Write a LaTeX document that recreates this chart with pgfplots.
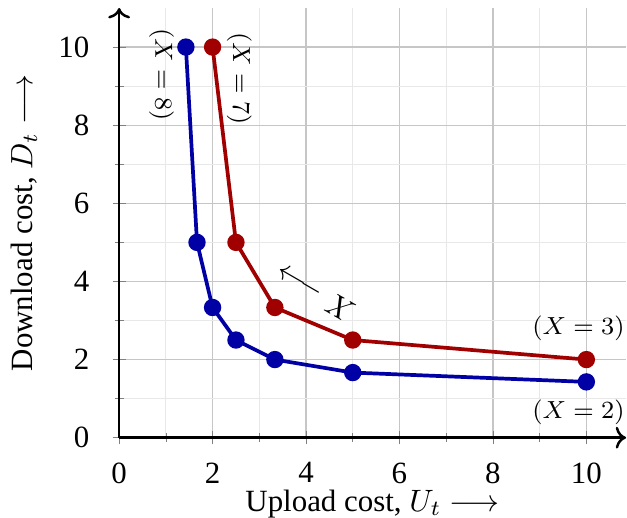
\documentclass[border=0pt]{standalone}
\usepackage{fontspec}
\setmainfont{Liberation Serif}
\usepackage{pgfplots}
\pgfplotsset{compat=1.18}
\usetikzlibrary{arrows.meta}
\begin{document}
\begin{tikzpicture}
\begin{axis}[
  scale only axis,
  width=164pt, height=139pt,
  axis lines=left,
  axis line style={thick,->},
  xmin=0, xmax=10.85,
  ymin=0, ymax=11,
  xtick={0,2,...,10}, ytick={0,2,...,10},
  minor xtick={1,3,...,9}, minor ytick={1,3,...,9},
  tick align=center,
  /pgf/number format/assume math mode=true,
  yticklabel style={xshift=-4pt},
  xticklabel style={yshift=-2.4pt},
  xlabel style={yshift=4.8pt, name=xlab},
  ylabel style={name=ylab},
  grid=both,
  major grid style={gray!45},
  minor grid style={gray!18},
  xlabel={Upload cost, $U_t \longrightarrow$},
  ylabel={Download cost, $D_t \longrightarrow$},
  clip=false,
]
\addplot[color={rgb,255:red,0;green,0;blue,165}, very thick, mark=*, mark size=2.2pt]
coordinates {
  (1.4286,10)(1.6667,5)(2,3.3333)(2.5,2.5)(3.3333,2)(5,1.6667)(10,1.4286)
};
\addplot[color={rgb,255:red,160;green,0;blue,0}, very thick, mark=*, mark size=2.2pt]
coordinates {
  (2,10)(2.5,5)(3.3333,3.3333)(5,2.5)(10,2)
};
\node[rotate=-90, font=\footnotesize] at (axis cs:0.91,9.3) {$(X=8)$};
\node[rotate=-90, font=\footnotesize] at (axis cs:2.57,9.2) {$(X=7)$};
\node[font=\footnotesize] at (axis cs:9.83,2.8) {$(X=3)$};
\node[font=\footnotesize] at (axis cs:9.83,0.64) {$(X=2)$};
\node[rotate=150] at (axis cs:4.18,3.7) {$X \longrightarrow$};
\coordinate (tip) at (axis cs:10.85,11);
\end{axis}
\coordinate (bl) at ([yshift=3.6pt]xlab.south);
\coordinate (tr) at ([xshift=0.3pt,yshift=2.6pt]tip);
\pgfresetboundingbox
\path[use as bounding box] (ylab.north |- bl) rectangle (tr);
\end{tikzpicture}
\end{document}
